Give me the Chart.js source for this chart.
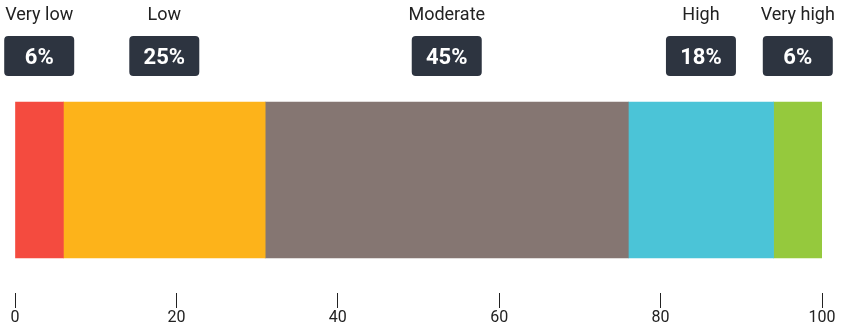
<!DOCTYPE html>
<html>
<head>
<meta charset="utf-8">
<script src="https://cdn.jsdelivr.net/npm/chart.js@4/dist/chart.umd.min.js"></script>
<style>
  html, body { margin: 0; padding: 0; background: #fff; }
  #wrap { width: 841px; height: 328px; }
</style>
</head>
<body>
<div id="wrap"><canvas id="chart"></canvas></div>
<script>
// data
const categories = ['Very low', 'Low', 'Moderate', 'High', 'Very high'];
const values = [6, 25, 45, 18, 6];
const colors = ['#F44B3F', '#FDB31A', '#857672', '#4BC4D7', '#95C93D'];
const xTicks = [0, 20, 40, 60, 80, 100];

// labels + dark boxes above each segment
const topLabels = {
    id: 'topLabels',
    afterDatasetsDraw(chart) {
        const ctx = chart.ctx;
        const x = chart.scales.x;
        let start = 0;
        ctx.save();
        ctx.textAlign = 'center';
        ctx.textBaseline = 'middle';
        values.forEach((v, i) => {
            const cx = x.getPixelForValue(start + v / 2);
            start += v;

            ctx.fillStyle = '#222';
            ctx.font = '18px Roboto';
            ctx.fillText(categories[i], cx, 15);

            ctx.fillStyle = '#2D3440';
            ctx.beginPath();
            ctx.roundRect(cx - 35, 36, 70, 40, 4);
            ctx.fill();

            ctx.fillStyle = '#fff';
            ctx.font = 'bold 22px Roboto';
            ctx.fillText(v + '%', cx, 58);
        });
        ctx.restore();
    }
};

new Chart(document.querySelector('#chart'), {
    type: 'bar',
    data: {
        labels: [''],
        datasets: categories.map((c, i) => ({
            label: c,
            data: [values[i]],
            backgroundColor: colors[i],
            borderWidth: 0,
            barThickness: 156
        }))
    },
    options: {
        indexAxis: 'y',
        responsive: true,
        maintainAspectRatio: false,
        animation: false,
        layout: { padding: { top: 67, left: 15, right: 19, bottom: 0 } },
        plugins: { legend: { display: false }, tooltip: { enabled: false } },
        scales: {
            x: {
                stacked: true,
                min: 0,
                max: 100,
                afterBuildTicks: (s) => { s.ticks = xTicks.map(v => ({ value: v })); },
                border: { display: false },
                grid: { drawOnChartArea: false, drawTicks: true, tickLength: 15, color: '#222', lineWidth: 1 },
                ticks: { padding: 2, color: '#222', font: { family: 'Roboto', size: 16, lineHeight: 1 }, maxRotation: 0 }
            },
            y: { stacked: true, display: false }
        }
    },
    plugins: [topLabels]
});
</script>
</body>
</html>
